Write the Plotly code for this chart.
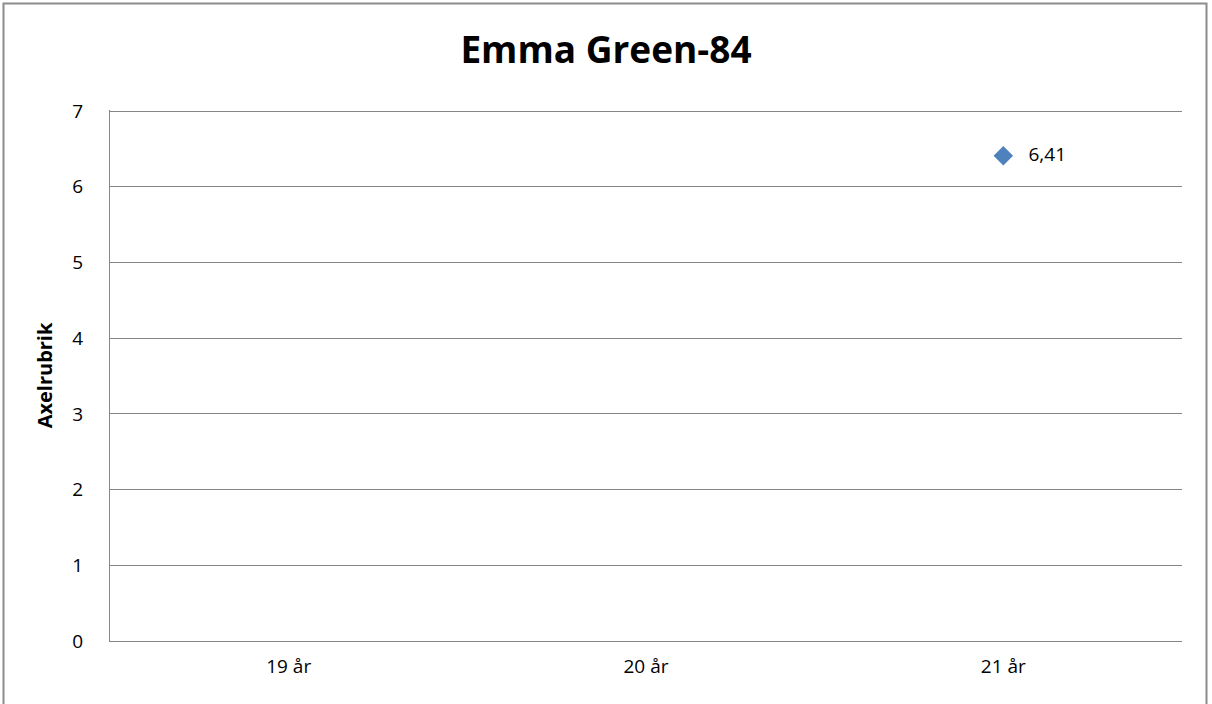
import plotly.graph_objects as go

categories = ["19 år", "20 år", "21 år"]
values = [None, None, 6.41]
labels = ["", "", "6,41"]
y_ticks = [0, 1, 2, 3, 4, 5, 6, 7]

W, H = 1212, 704
L, R, T, B = 110, 30, 110, 63
pw, ph = W - L - R, H - T - B

fig = go.Figure()
fig.add_trace(go.Scatter(
    x=categories, y=values, text=labels,
    mode="markers+text", textposition="middle right",
    texttemplate="   %{text}",
    marker=dict(symbol="diamond", size=15, color="#4F81BD"),
    textfont=dict(family="Open Sans", size=19, color="#000000"),
    cliponaxis=False, showlegend=False,
))

def px2x(p):
    return (p - L) / pw

def px2y(p):
    return (H - B - p) / ph

fig.add_shape(type="rect", xref="paper", yref="paper",
              x0=px2x(3.5), x1=px2x(1206.5), y0=px2y(710), y1=px2y(3.5),
              line=dict(color="#8C8C8C", width=2), fillcolor="rgba(0,0,0,0)")

fig.update_layout(
    width=W, height=H,
    margin=dict(l=L, r=R, t=T, b=B),
    paper_bgcolor="white", plot_bgcolor="white",
    title=dict(text="<b>Emma Green-84</b>", x=0.5, xref="container", xanchor="center",
               y=1 - 50 / H, yref="container", yanchor="middle",
               font=dict(family="Open Sans", size=37, color="#000000")),
    font=dict(family="Open Sans", color="#000000"),
    xaxis=dict(type="category", categoryorder="array", categoryarray=categories,
               range=[-0.5, 2.5], showgrid=False, showline=True, linecolor="#868686",
               linewidth=1, ticks="", tickfont=dict(size=19), zeroline=False,
               ticklabelstandoff=8),
    yaxis=dict(range=[0, 7.015], tickvals=y_ticks, showgrid=True, gridcolor="#868686",
               gridwidth=1, showline=True, linecolor="#868686", linewidth=1,
               ticks="", ticklen=0, tickfont=dict(size=19), zeroline=False,
               ticklabelstandoff=22,
               title=dict(text="<b>Axelrubrik</b>", font=dict(size=20), standoff=14)),
)

fig.write_html("out.html", config={"displayModeBar": False},
               post_script="document.body.style.margin='0';document.body.style.overflow='hidden';")
